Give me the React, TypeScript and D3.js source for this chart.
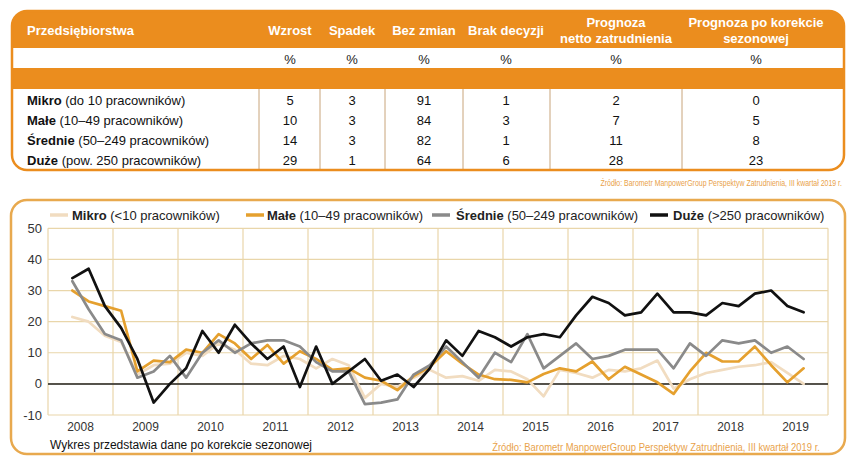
import React from "react";
import * as d3 from "d3";

// ---------- Table data ----------
const firms = ["Mikro", "Małe", "Średnie", "Duże"];
const firmDesc = ["(do 10 pracowników)", "(10–49 pracowników)", "(50–249 pracowników)", "(pow. 250 pracowników)"];
const wzrost = [5, 10, 14, 29];
const spadek = [3, 3, 3, 1];
const bezZmian = [91, 84, 82, 64];
const brakDecyzji = [1, 3, 1, 6];
const netto = [2, 7, 11, 28];
const korekta = [0, 5, 8, 23];
const colHeaders = [["Wzrost"], ["Spadek"], ["Bez zmian"], ["Brak decyzji"], ["Prognoza", "netto zatrudnienia"], ["Prognoza po korekcie", "sezonowej"]];
const sourceText = "Źródło: Barometr ManpowerGroup Perspektyw Zatrudnienia, III kwartał 2019 r.";

// ---------- Chart data (seasonally adjusted net employment outlook) ----------
const quarters = [
  "2008Q2", "2008Q3", "2008Q4",
  "2009Q1", "2009Q2", "2009Q3", "2009Q4",
  "2010Q1", "2010Q2", "2010Q3", "2010Q4",
  "2011Q1", "2011Q2", "2011Q3", "2011Q4",
  "2012Q1", "2012Q2", "2012Q3", "2012Q4",
  "2013Q1", "2013Q2", "2013Q3", "2013Q4",
  "2014Q1", "2014Q2", "2014Q3", "2014Q4",
  "2015Q1", "2015Q2", "2015Q3", "2015Q4",
  "2016Q1", "2016Q2", "2016Q3", "2016Q4",
  "2017Q1", "2017Q2", "2017Q3", "2017Q4",
  "2018Q1", "2018Q2", "2018Q3", "2018Q4",
  "2019Q1", "2019Q2", "2019Q3",
];
const mikro = [21.5, 20, 15.5, 13.5, 3, 6, 6.5, 10, 9, 13, 11, 6.5, 6, 9, 8, 5, 8, 6, -4.5, 0, -1, 2, 4.5, 2, 2.5, 1, 4.5, 4, 1.5, -4, 4.5, 3.5, 2, 4.5, 4, 5, 7.5, -1.5, 1.5, 3.5, 4.5, 5.5, 6, 7, 3.5, 0];
const male = [30, 26.5, 25, 23.5, 4, 7.5, 7, 11, 10, 16, 13, 8, 12.5, 6.5, 10.5, 8, 4.5, 5, 2, 1, -2, 2.5, 5.5, 10.5, 6.5, 3, 1.5, 1.3, 0.5, 3.2, 5, 4, 7.2, 1.5, 5.5, 3, 0.5, -3.2, 4, 10, 7.2, 7.2, 12, 6, 0.5, 5];
const srednie = [33, 24, 16, 14, 2, 4, 9, 2, 10, 14, 10, 13, 14, 14, 12, 7, 4, 4, -6.5, -6, -5, 3, 6, 12, 7, 2, 10, 7, 16, 5, 9, 13, 8, 9, 11, 11, 11, 5, 13, 9, 14, 13, 14, 10, 12, 8];
const duze = [34, 37, 25, 18, 8, -6, 0, 5, 17, 10, 19, 13, 8, 12, -1, 12, 0, 4, 8, 1, 3, -1, 5, 14, 9, 17, 15, 12, 15, 16, 15, 22, 28, 26, 22, 23, 29, 23, 23, 22, 26, 25, 29, 30, 25, 23];
const years = [2008, 2009, 2010, 2011, 2012, 2013, 2014, 2015, 2016, 2017, 2018, 2019];
const yTicks = [-10, 0, 10, 20, 30, 40, 50];

const seriesDefs = [
  { name: "Mikro", desc: " (<10 pracowników)", values: mikro, color: "#F1DCC0" },
  { name: "Małe", desc: " (10–49 pracowników)", values: male, color: "#E5A02E" },
  { name: "Średnie", desc: " (50–249 pracowników)", values: srednie, color: "#8A8A8A" },
  { name: "Duże", desc: " (>250 pracowników)", values: duze, color: "#111111" },
];

const ORANGE = "#EB8D1E";
const FONT = "'Liberation Sans', Arial, Helvetica, sans-serif";

function quarterPos(q: string) {
  const y = +q.slice(0, 4);
  const qq = +q.slice(5);
  return y + (qq - 0.5) / 4;
}

export default function App() {
  const W = 852, H = 465;
  const x = d3.scaleLinear().domain([2008, 2020]).range([48, 828]);
  const y = d3.scaleLinear().domain([-10, 50]).range([415, 228.3]);
  const line = d3
    .line<number>()
    .x((_, i) => x(quarterPos(quarters[i])))
    .y((v) => y(v));

  // table geometry
  const tX = 12, tY = 11, tW = 832, tH = 159;
  const sepX = [259, 320, 385, 463, 550, 682];
  const colCX = [290, 352, 424, 506, 616, 756];
  const rowY = [100.5, 120.5, 140.5, 160.5];
  const cols = [wzrost, spadek, bezZmian, brakDecyzji, netto, korekta];

  const legendPos = [
    { sx: 50, tx: 72 },
    { sx: 246, tx: 267 },
    { sx: 432, tx: 456 },
    { sx: 650, tx: 673 },
  ];

  return (
    <div style={{ position: "absolute", left: 0, top: 0, width: W, height: H, background: "#fff" }}>
      <svg width={W} height={H} style={{ display: "block", fontFamily: FONT }}>
        <defs>
          <clipPath id="tclip">
            <rect x={tX} y={tY} width={tW} height={tH} rx={15} ry={15} />
          </clipPath>
        </defs>
        {/* ---------- TABLE ---------- */}
        <rect x={tX} y={tY} width={tW} height={tH} rx={15} ry={15} fill="#fff" />
        <g clipPath="url(#tclip)">
          <rect x={tX} y={tY} width={tW} height={48 - tY} fill={ORANGE} />
          <rect x={tX} y={68} width={tW} height={21} fill={ORANGE} />
        </g>
        {sepX.map((sx) => (
          <line key={sx} x1={sx} x2={sx} y1={89} y2={170} stroke="#C8A47A" strokeWidth={1} />
        ))}
        <rect x={tX} y={tY} width={tW} height={tH} rx={15} ry={15} fill="none" stroke={ORANGE} strokeWidth={2.5} />
        <text x={27} y={30} dy="0.35em" fill="#fff" fontWeight="bold" fontSize={13}>Przedsiębiorstwa</text>
        {colHeaders.map((h, i) =>
          h.length === 1 ? (
            <text key={i} x={colCX[i]} y={30} dy="0.35em" textAnchor="middle" fill="#fff" fontWeight="bold" fontSize={13}>{h[0]}</text>
          ) : (
            <g key={i}>
              <text x={colCX[i]} y={22} dy="0.35em" textAnchor="middle" fill="#fff" fontWeight="bold" fontSize={13}>{h[0]}</text>
              <text x={colCX[i]} y={38} dy="0.35em" textAnchor="middle" fill="#fff" fontWeight="bold" fontSize={13}>{h[1]}</text>
            </g>
          )
        )}
        {colCX.map((cx, i) => (
          <text key={i} x={cx} y={59} dy="0.35em" textAnchor="middle" fill="#222" fontSize={13}>%</text>
        ))}
        {firms.map((f, r) => (
          <g key={f}>
            <text x={27} y={rowY[r]} dy="0.35em" fill="#111" fontSize={13}>
              <tspan fontWeight="bold">{f}</tspan>
              <tspan>{" " + firmDesc[r]}</tspan>
            </text>
            {cols.map((c, i) => (
              <text key={i} x={colCX[i]} y={rowY[r]} dy="0.35em" textAnchor="middle" fill="#111" fontSize={13}>{c[r]}</text>
            ))}
          </g>
        ))}
        <g transform="translate(842,186) scale(0.82,1)">
          <text x={0} y={0} textAnchor="end" fill="#E9A24A" fontSize={8.5}>{sourceText}</text>
        </g>

        {/* ---------- CHART BOX ---------- */}
        <rect x={11} y={200} width={834} height={254} rx={16} ry={16} fill="#fff" stroke="#E8A94E" strokeWidth={2.5} />

        {/* legend */}
        {seriesDefs.map((s, i) => (
          <g key={s.name}>
            <line x1={legendPos[i].sx} x2={legendPos[i].sx + 18} y1={215} y2={215} stroke={s.color} strokeWidth={3.5} />
            <text x={legendPos[i].tx} y={215} dy="0.35em" fontSize={13} fill="#222">
              <tspan fontWeight="bold">{s.name}</tspan>
              <tspan>{s.desc}</tspan>
            </text>
          </g>
        ))}

        {/* grid */}
        <g>
          {yTicks.map((t) => (
            <line key={t} x1={x(2008)} x2={x(2020)} y1={y(t)} y2={y(t)} stroke="#E9D6AA" strokeWidth={1.2} />
          ))}
          {years.concat([2020]).map((yr) => (
            <line key={yr} x1={x(yr)} x2={x(yr)} y1={y(50)} y2={y(-10)} stroke="#E9D6AA" strokeWidth={1.2} />
          ))}
        </g>
        {yTicks.map((t) => (
          <text key={t} x={42} y={y(t)} dy="0.35em" textAnchor="end" fontSize={13} fill="#333">{t}</text>
        ))}
        {years.map((yr) => (
          <text key={yr} x={x(yr + 0.5)} y={427} dy="0.35em" textAnchor="middle" fontSize={12} fill="#333">{yr}</text>
        ))}
        <line x1={x(2008)} x2={x(2020)} y1={y(0)} y2={y(0)} stroke="#222" strokeWidth={1.5} />

        {seriesDefs.map((s) => (
          <path key={s.name} d={line(s.values) || ""} fill="none" stroke={s.color} strokeWidth={2.7} strokeLinejoin="round" strokeLinecap="round" />
        ))}

        <text x={50} y={445} dy="0.35em" fontSize={12} fill="#111">Wykres przedstawia dane po korekcie sezonowej</text>
        <g transform="translate(820,451) scale(0.86,1)">
          <text x={0} y={0} textAnchor="end" fill="#E9A24A" fontSize={11}>{sourceText}</text>
        </g>
      </svg>
    </div>
  );
}
